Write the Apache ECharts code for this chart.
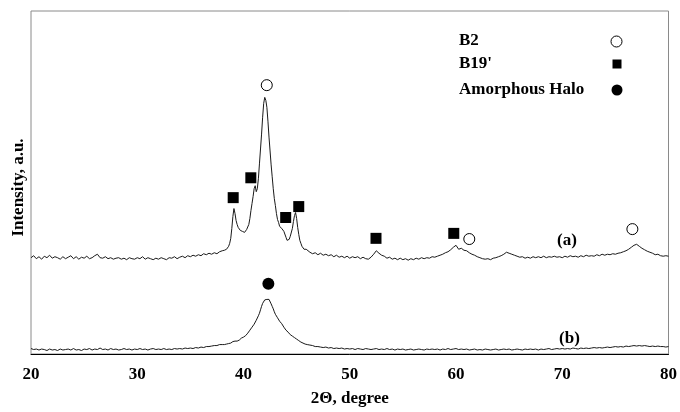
<!DOCTYPE html>
<html><head><meta charset="utf-8">
<script src="https://cdn.jsdelivr.net/npm/echarts@6/dist/echarts.min.js"></script>
<style>html,body{margin:0;padding:0;background:#fff}#c{width:680px;height:412px}</style>
</head><body><div id="c"></div>
<script>
// 2-theta scan points (degrees)
const thetaSeg1 = [20,20.25,20.5,20.75,21,21.25,21.5,21.75,22,22.25,22.5,22.75,23,23.25,23.5,23.75,24,24.25,24.5,24.75,25,25.25,25.5,25.75,26,26.25,26.5,26.75,27,27.25,27.5,27.75,28,28.25,28.5,28.75,29,29.25,29.5,29.75,30,30.25,30.5,30.75,31,31.25,31.5,31.75,32,32.25,32.5,32.75,33,33.25,33.5,33.75,34,34.25,34.5,34.75,35,35.25,35.5,35.75,36,36.25,36.5,36.75,37,37.25,37.5,37.75,38];
const thetaSeg2 = [38.1,38.2,38.3,38.4,38.5,38.6,38.7,38.8,38.9,39,39.1,39.2,39.3,39.4,39.5,39.6,39.7,39.8,39.9,40,40.1,40.2,40.3,40.4,40.5,40.6,40.7,40.8,40.9,41,41.1,41.2,41.3,41.4,41.5,41.6,41.7,41.8,41.9,42,42.1,42.2,42.3,42.4,42.5,42.6,42.7,42.8,42.9,43,43.1,43.2,43.3,43.4,43.5,43.6,43.7,43.8,43.9,44,44.1,44.2,44.3,44.4,44.5,44.6,44.7,44.8,44.9,45,45.1,45.2,45.3,45.4,45.5,45.6,45.7,45.8,45.9,46];
const thetaSeg3 = [46.25,46.5,46.75,47,47.25,47.5,47.75,48,48.25,48.5,48.75,49,49.25,49.5,49.75,50,50.25,50.5,50.75,51,51.25,51.5,51.75,52,52.25,52.5,52.75,53,53.25,53.5,53.75,54,54.25,54.5,54.75,55,55.25,55.5,55.75,56,56.25,56.5,56.75,57,57.25,57.5,57.75,58,58.25,58.5,58.75,59,59.25,59.5,59.75,60,60.25,60.5,60.75,61,61.25,61.5,61.75,62,62.25,62.5,62.75,63,63.25,63.5,63.75,64,64.25,64.5,64.75,65,65.25,65.5,65.75,66,66.25,66.5,66.75,67,67.25,67.5,67.75,68,68.25,68.5,68.75,69,69.25,69.5,69.75,70,70.25,70.5,70.75,71,71.25,71.5,71.75,72,72.25,72.5,72.75,73,73.25,73.5,73.75,74,74.25,74.5,74.75,75,75.25,75.5,75.75,76,76.25,76.5,76.75,77,77.25,77.5,77.75,78,78.25,78.5,78.75,79,79.25,79.5,79.75,80];

// trace (a) intensity (a.u.)
const aSeg1 = [97,99,96,98,95.5,98.5,97,99.5,96.5,98,
  97,95.5,98,96,97.5,99,96,98,95.5,97.5,
  96.5,98.5,96,97,99,100.5,97,96.5,98,96,
  97,95.5,96.5,97,95.5,96.5,95,97,96,95.5,
  97,96,98,95.5,97,96,95,96.5,95.5,97,
  96,95,97,96.5,98,96,97.5,98.5,97,99,
  98,99.5,98.5,100,99,101,100,101.5,100.5,102,
  101,103,104];
const aSeg2 = [105.5,104.5,106.5,105.5,106.5,108.5,111.5,116.5,126.5,138.5,
  146.5,141.5,134.5,130.5,127.5,129.5,124.5,126.5,123.5,125.5,
  122.5,124.5,125.5,127.5,130.5,136.5,144.5,151.5,158.5,166.5,
  169.5,163.5,166.5,176.5,191.5,206.5,221.5,238.5,252.5,258.5,
  255.5,248.5,234.5,218.5,204.5,190.5,178.5,166.5,156.5,149.5,
  141.5,135.5,132.5,128.5,130.5,126.5,127.5,123.5,121.5,117.5,
  114.5,116.5,115.5,118.5,120.5,126.5,133.5,139.5,142.5,136.5,
  127.5,120.5,114.5,111.5,108.5,107.5,105.5,104.5,105.5,103.5];
const aSeg3 = [102.5,101,102,100,101.5,99.5,100.5,99,100,98,
  99.5,97.5,98.5,97,98.5,96.5,98,97,98,96,
  97.5,96,95.5,97.5,100.5,104,101.5,99.5,98.5,96.5,
  97.5,95.5,96.5,95,96.5,95,96,94.5,96,95,
  96.5,95.5,97,96,97,96.5,98,97.5,98.5,99.5,
  100.5,102,103,105,107.5,109.5,105.5,106.5,104.5,104,
  102,100.5,99.5,98,97,96,95.5,96,95,96.5,
  97,98,99,100.5,102.5,101.5,100.5,99.5,98.5,97.5,
  98,96.5,97.5,96.5,98,97,98,97,98.5,97,
  98,97.5,98.5,97.5,98,97,98.5,97.5,99,98,
  98.5,97.5,99,98,99.5,98.5,99,98.5,100,99,
  100.5,99.5,100.5,100,101,100.5,101.5,102,103,104,
  105.5,107.5,109.5,110.5,108.5,106.5,105,103.5,102.5,101.5,
  100,100.5,99,98.5,99,98.5];

// trace (b) intensity (a.u.)
const bSeg1 = [5.5,4.5,5,4,5,4.5,3.5,5,4,4.5,
  3.5,5,4,4.5,5,4,5.5,4,4.5,3.5,
  5,4.5,5.5,4,5,4.5,6,4.5,5,4,
  5.5,4.5,5,4,4.5,5.5,4.5,5,4,5,
  4.5,5.5,4.5,5,4,5,5.5,4.5,5,4.5,
  5.5,4.5,5,4.5,5.5,5,5.5,5,6,5.5,
  6,5.5,6.5,6,7,6.5,7.5,7.5,8,8.5,
  8.5,9.5,9.5];
const bSeg2 = [10,9.5,10.5,10,11,10.5,11.5,11,12,12.5,
  12,13,13.5,13,14.5,14,15.5,16,16.5,17,
  18,18.5,20,21,22.5,24,25.5,27,28.5,30,
  32,34,36,38.5,41,44.5,48,51,53,54.5,
  53.5,55,54,55,53,50.5,48,45.5,42.5,40,
  38.5,36.5,35,33,31.5,30.5,28.5,27,25.5,24,
  22.5,22,20.5,19.5,19,18,17,16.5,15.5,15,
  14,13.5,12.5,12,11.5,11,10.5,10,10,9.5];
const bSeg3 = [9,8.5,7.5,7.5,7,6.5,7,6,6.5,5.5,
  6,5.5,6,5,5.5,5,5.5,4.5,5.5,5,
  4.5,5.5,5,4.5,5,5.5,4.5,5,4.5,5.5,
  4.5,5,4,5,4.5,5,4,4.5,5,4,
  4.5,5,4.5,4,5,4.5,5,4.5,5,4,
  5,4.5,5.5,4.5,5,5.5,4.5,5,4.5,5,
  4,4.5,5,4,4.5,4,5,4.5,4,4.5,
  5,4,4.5,5,4.5,5,4,4.5,5,4.5,
  4,5,4.5,5,4.5,5,4,5,4.5,5,
  5.5,4.5,5,5.5,5,5.5,5,5.5,5,6,
  5.5,5,6,5.5,6,5.5,6,6.5,6,6.5,
  6,6.5,7,6.5,7,7.5,7,7.5,7,8,
  7.5,8,8.5,8,8.5,8,8.5,8,7.5,8,
  7.5,8,7.5,7.5,7,7.5];

// peak markers [2theta, intensity]
const b2Peaks = [[42.19,270.8],[61.25,115.8],[76.6,125.8]];
const b19Peaks = [[39.03,157.5],[40.69,177.5],[43.97,137.5],[45.2,148.5],[52.47,116.5],[59.79,121.5]];
const haloPeaks = [[42.34,70.8]];

const xTicks = [20,30,40,50,60,70,80];
const legendNames = ['B2', "B19'", 'Amorphous Halo'];
const traceLabels = ['(a)', '(b)'];

const theta = thetaSeg1.concat(thetaSeg2, thetaSeg3);
const traceA = aSeg1.concat(aSeg2, aSeg3);
const traceB = bSeg1.concat(bSeg2, bSeg3);
const pairs = (xs, ys) => xs.slice(0, Math.min(xs.length, ys.length)).map((x, i) => [x, ys[i]]);

const FONT = 'Liberation Serif, Times New Roman, serif';
const txt = {fontFamily: FONT, fontWeight: 'bold', fontSize: 17, color: '#000'};
const gfont = 'bold 17px ' + FONT;

const chart = echarts.init(document.getElementById('c'), null, {renderer: 'canvas'});
chart.setOption({
  animation: false,
  backgroundColor: '#fff',
  grid: {left: 31, right: 9, top: 11, bottom: 55.5, show: true, borderColor: '#8a8a8a', borderWidth: 1, backgroundColor: 'transparent'},
  xAxis: {
    type: 'value', min: xTicks[0], max: xTicks[xTicks.length - 1], interval: 10,
    axisLine: {show: true, lineStyle: {color: '#000', width: 1}},
    axisTick: {show: false}, splitLine: {show: false},
    axisLabel: Object.assign({margin: 12}, txt),
    name: '2Θ, degree', nameLocation: 'middle', nameGap: 36, nameTextStyle: txt
  },
  yAxis: {
    type: 'value', min: 0, max: 345.5,
    axisLine: {show: false}, axisTick: {show: false}, splitLine: {show: false},
    axisLabel: {show: false},
    name: 'Intensity, a.u.', nameLocation: 'middle', nameGap: 4,
    nameTextStyle: Object.assign({padding: [0, 10, 0, 0]}, txt)
  },
  series: [
    {type: 'line', data: pairs(theta, traceA), showSymbol: false, symbol: 'none',
     lineStyle: {color: '#1a1a1a', width: 1}, z: 2},
    {type: 'line', data: pairs(theta, traceB), showSymbol: false, symbol: 'none',
     lineStyle: {color: '#1a1a1a', width: 1}, z: 2},
    {type: 'scatter', name: legendNames[0], data: b2Peaks, symbol: 'circle', symbolSize: 11,
     itemStyle: {color: '#fff', borderColor: '#000', borderWidth: 1, opacity: 1}, z: 3},
    {type: 'scatter', name: legendNames[1], data: b19Peaks, symbol: 'rect', symbolSize: 11,
     itemStyle: {color: '#000', opacity: 1}, z: 3},
    {type: 'scatter', name: legendNames[2], data: haloPeaks, symbol: 'circle', symbolSize: 12,
     itemStyle: {color: '#000', opacity: 1}, z: 3}
  ],
  graphic: [
    {type: 'text', left: 459, top: 32, style: {text: legendNames[0], font: gfont, fill: '#000'}},
    {type: 'text', left: 459, top: 55, style: {text: legendNames[1], font: gfont, fill: '#000'}},
    {type: 'text', left: 459, top: 81, style: {text: legendNames[2], font: gfont, fill: '#000'}},
    {type: 'circle', shape: {cx: 616.5, cy: 41.5, r: 5.5}, style: {fill: '#fff', stroke: '#000', lineWidth: 1}},
    {type: 'rect', shape: {x: 612.5, y: 59.5, width: 9, height: 9}, style: {fill: '#000'}},
    {type: 'circle', shape: {cx: 617, cy: 90, r: 5.5}, style: {fill: '#000'}},
    {type: 'text', x: 567, y: 240.5, style: {text: traceLabels[0], font: gfont, fill: '#000', align: 'center', verticalAlign: 'middle'}},
    {type: 'text', x: 569.5, y: 339, style: {text: traceLabels[1], font: gfont, fill: '#000', align: 'center', verticalAlign: 'middle'}}
  ]
});
</script>
</body></html>
